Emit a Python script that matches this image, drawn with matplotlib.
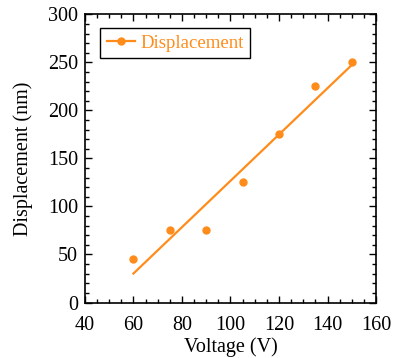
import numpy as np
import matplotlib
matplotlib.use('Agg')
import matplotlib.pyplot as plt
from matplotlib.ticker import MultipleLocator

plt.rcParams['font.family'] = ['Liberation Serif', 'DejaVu Serif']
plt.rcParams['mathtext.fontset'] = 'stix'

voltage = [60, 75, 90, 105, 120, 135, 150]
displacement = [45, 76, 75, 125, 175, 225, 250]
orange = '#ff8c1a'

fig = plt.figure(figsize=(3.95, 3.58), dpi=100)
ax = fig.add_axes([0.215, 0.155, 0.737, 0.805])

# linear fit through the measured points
k, b = np.polyfit(voltage, displacement, 1)
xs = np.array([voltage[0], voltage[-1]])
ax.plot(xs, k * xs + b, color=orange, lw=1.6)
ax.plot(voltage, displacement, 'o', color=orange, ms=5)

# legend proxy: line with marker
h, = ax.plot([], [], '-o', color=orange, lw=1.6, ms=5)
leg = ax.legend([h], ['Displacement'], loc='upper left', fontsize=13.5,
                fancybox=False, edgecolor='black', framealpha=1,
                handlelength=1.5, handletextpad=0.3, borderpad=0.35,
                bbox_to_anchor=(0.02, 0.985))
leg.get_frame().set_linewidth(1.0)
for t in leg.get_texts():
    t.set_color(orange)

ax.set_xlim(40, 160)
ax.set_ylim(0, 300)
ax.xaxis.set_major_locator(MultipleLocator(20))
ax.xaxis.set_minor_locator(MultipleLocator(5))
ax.yaxis.set_major_locator(MultipleLocator(50))
ax.yaxis.set_minor_locator(MultipleLocator(10))
ax.tick_params(which='both', direction='in', top=True, right=True,
               labelsize=14.5, width=1.0)
ax.tick_params(which='major', length=5)
ax.tick_params(which='minor', length=3)
ax.tick_params(axis='x', which='major', pad=10)
ax.tick_params(axis='y', which='major', pad=5)
for s in ax.spines.values():
    s.set_linewidth(1.2)

ax.set_xlabel('Voltage (V)', fontsize=14.5, labelpad=1.5)
ax.set_ylabel('Displacement (nm)', fontsize=14.5, labelpad=11)

fig.savefig('out.png', dpi=100)
